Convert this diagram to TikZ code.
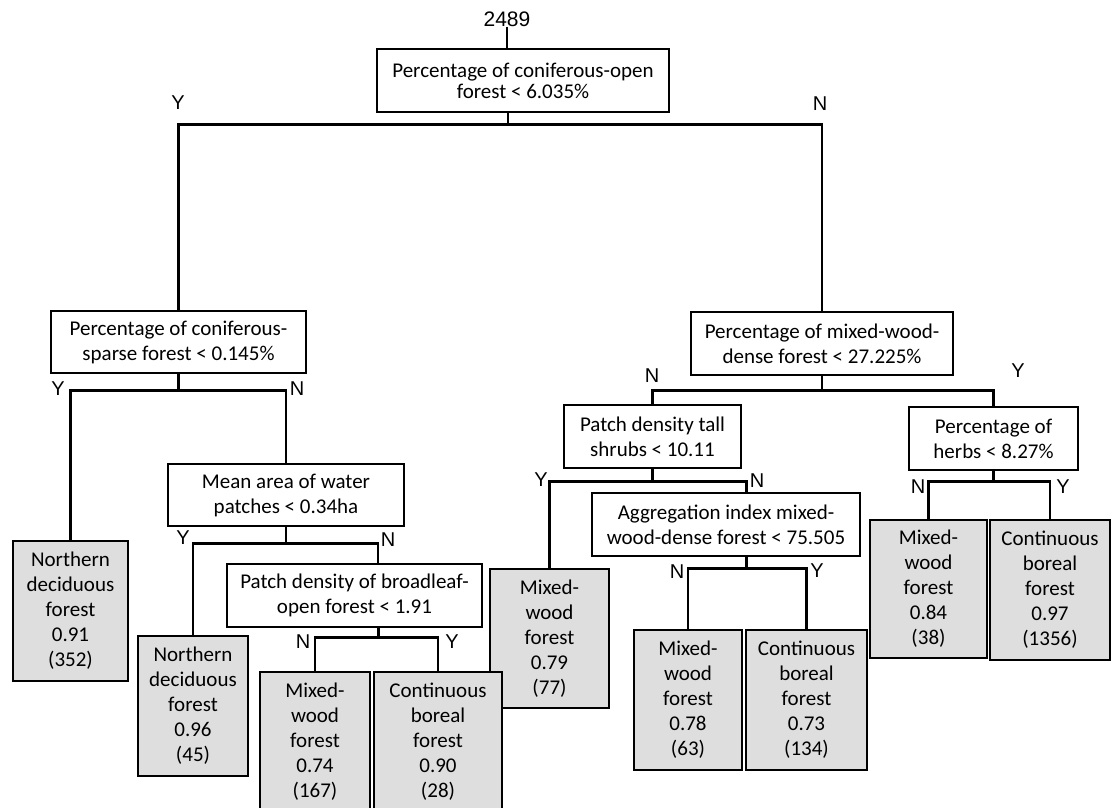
\documentclass[tikz,border=0pt]{standalone}
\usepackage{fontspec}
\setmainfont{Carlito}
\newfontfamily\arialf{Liberation Sans}
\definecolor{leafgray}{RGB}{222,222,222}
\begin{document}
\begin{tikzpicture}[x=1pt,y=-1pt,
  box/.style={draw, line width=2.6pt, fill=white, inner sep=0pt, align=center,
              font=\fontsize{21}{25}\selectfont},
  leaf/.style={box, fill=leafgray},
  conn/.style={line width=2.6pt},
  yn/.style={font=\arialf\fontsize{20}{24}\selectfont, inner sep=0pt}]
\useasboundingbox (0,0) rectangle (1111,808);
\fill[white] (0,0) rectangle (1111,808);

% decision nodes
\node[font=\arialf\fontsize{21}{25}\selectfont, inner sep=0pt] (total) at (507,19) {2489};
\node[box, minimum width=292, minimum height=63, font=\fontsize{21}{21}\selectfont] (root) at (523,80.5)
  {Percentage of coniferous-open\\forest < 6.035\%};
\node[box, minimum width=255, minimum height=62] (l1) at (178.5,342)
  {Percentage of coniferous-\\sparse forest < 0.145\%};
\node[box, minimum width=262, minimum height=63] (l2) at (822,343.5)
  {Percentage of mixed-wood-\\dense forest < 27.225\%};
\node[box, minimum width=236, minimum height=62] (water) at (286,495)
  {Mean area of water\\patches < 0.34ha};
\node[box, minimum width=255, minimum height=63] (broad) at (354.5,595.5)
  {Patch density of broadleaf-\\open forest < 1.91};
\node[box, minimum width=177, minimum height=63] (tall) at (652.5,436.5)
  {Patch density tall\\shrubs < 10.11};
\node[box, minimum width=268, minimum height=63] (agg) at (726,524.5)
  {Aggregation index mixed-\\wood-dense forest < 75.505};
\node[box, minimum width=169, minimum height=63] (herbs) at (993.5,438.5)
  {Percentage of\\herbs < 8.27\%};

% leaves
\node[leaf, minimum width=115, minimum height=140] (f1) at (70.5,611)
  {Northern\\deciduous\\forest\\0.91\\(352)};
\node[leaf, minimum width=110, minimum height=140] (f2) at (193,706)
  {Northern\\deciduous\\forest\\0.96\\(45)};
\node[leaf, minimum width=110, minimum height=140] (f3) at (315,742)
  {Mixed-\\wood\\forest\\0.74\\(167)};
\node[leaf, minimum width=119, minimum height=139] (f5) at (549.5,638.5)
  {Mixed-\\wood\\forest\\0.79\\(77)};
\node[leaf, minimum width=128, minimum height=140] (f4) at (438,742)
  {Continuous\\boreal\\forest\\0.90\\(28)};
\node[leaf, minimum width=108, minimum height=140] (f6) at (688,700)
  {Mixed-\\wood\\forest\\0.78\\(63)};
\node[leaf, minimum width=121, minimum height=140] (f7) at (806.5,700)
  {Continuous\\boreal\\forest\\0.73\\(134)};
\node[leaf, minimum width=117, minimum height=138] (f8) at (928.5,589)
  {Mixed-\\wood\\forest\\0.84\\(38)};
\node[leaf, minimum width=120, minimum height=140] (f9) at (1050,590)
  {Continuous\\boreal\\forest\\0.97\\(1356)};

% connectors
\draw[conn] (total.south) -- (total.south |- root.north);
\draw[conn] ([xshift=-15pt]root.south) -- ++(0,11) coordinate (rb);
\draw[conn] (l1.north) |- (rb) -| (l2.north);

\draw[conn] (l1.south) -- ++(0,16) coordinate (l1b);
\draw[conn] (f1.north) |- (l1b) -| (water.north);

\draw[conn] (water.south) -- ++(0,16) coordinate (wb);
\draw[conn] (f2.north) |- (wb) -| ([xshift=23.5pt]broad.north);

\draw[conn] ([xshift=24pt]broad.south) -- ++(0,9) coordinate (bb);
\draw[conn] (f3.north) |- (bb) -| (f4.north);

\draw[conn] (l2.south) -- ++(0,14) coordinate (l2b);
\draw[conn] (tall.north) |- (l2b) -| (herbs.north);

\draw[conn] (tall.south) -- ++(0,12) coordinate (tb);
\draw[conn] (f5.north) |- (tb) -| ([xshift=20.5pt]agg.north);

\draw[conn] ([xshift=20.5pt]agg.south) -- ++(0,11) coordinate (ab);
\draw[conn] (f6.north) |- (ab) -| (f7.north);

\draw[conn] (herbs.south) -- ++(0,10) coordinate (hb);
\draw[conn] (f8.north) |- (hb) -| (f9.north);

% Y / N labels
\node[yn] (y0) at (178,103) {Y};
\node[yn] (n0) at (820,104) {N};
\node[yn] (y1) at (58,389) {Y};
\node[yn] (n1) at (297,389) {N};
\node[yn] (y2) at (183,538) {Y};
\node[yn] (n2) at (388,540) {N};
\node[yn] (n3) at (303,642) {N};
\node[yn] (y3) at (452,642) {Y};
\node[yn] (n4) at (652,376) {N};
\node[yn] (y4) at (1018,371) {Y};
\node[yn] (y5) at (541,480) {Y};
\node[yn] (n5) at (757,481) {N};
\node[yn] (n6) at (677,572) {N};
\node[yn] (y6) at (817,571) {Y};
\node[yn] (n7) at (918,487) {N};
\node[yn] (y7) at (1063,487) {Y};
\end{tikzpicture}
\end{document}
